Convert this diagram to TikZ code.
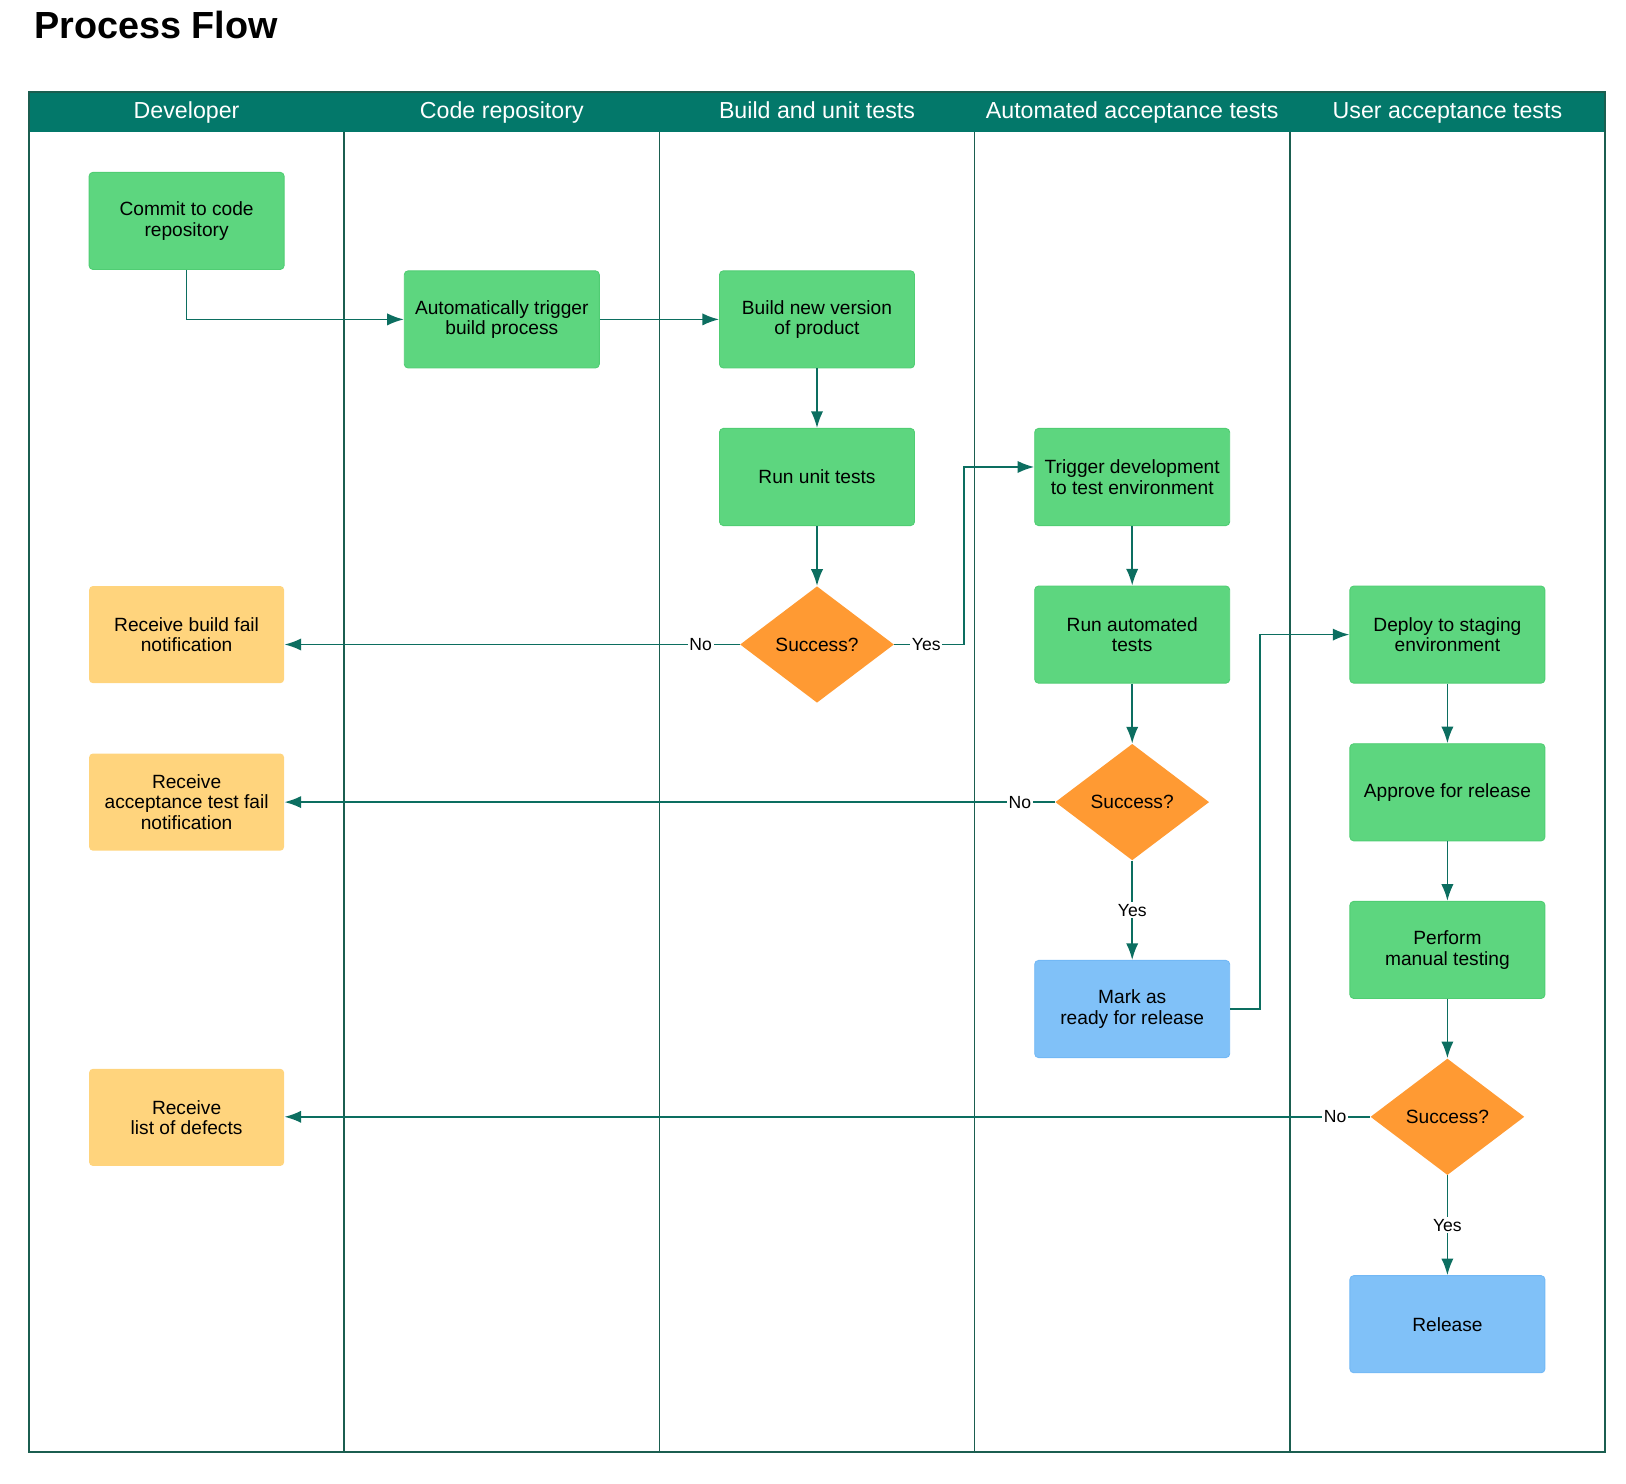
\documentclass[tikz,border=0pt]{standalone}
\usepackage{fontspec}
\setmainfont{Liberation Sans}
\usepackage{tikz}
\usetikzlibrary{arrows.meta,shapes.geometric,calc}
\definecolor{head}{HTML}{03786A}
\definecolor{lane}{HTML}{1B5E50}
\definecolor{flow}{HTML}{0C6E60}
\definecolor{task}{HTML}{5DD67F}
\definecolor{taskedge}{HTML}{50CD73}
\definecolor{note}{HTML}{FFD47D}
\definecolor{done}{HTML}{80C1F8}
\definecolor{doneedge}{HTML}{72B8F5}
\definecolor{decide}{HTML}{FF9A33}
\tikzset{
  pool/.style={draw=lane, line width=0.85pt},
  box/.style={rectangle, rounded corners=2.2pt, minimum width=111pt, minimum height=55.3pt,
    align=center, inner sep=2pt, font=\fontsize{10.9}{11.6}\selectfont},
  taskbox/.style={box, fill=task, draw=taskedge, line width=0.5pt},
  notebox/.style={box, fill=note},
  donebox/.style={box, fill=done, draw=doneedge, line width=0.5pt},
  ask/.style={diamond, fill=decide, minimum width=87.6pt, minimum height=66.3pt,
    inner sep=0pt, font=\fontsize{10.9}{11.6}\selectfont},
  flowline/.style={draw=flow, line width=1pt, -{Latex[length=9.5pt,width=7pt]}},
  lbl/.style={fill=white, inner sep=1pt, font=\fontsize{10}{12}\selectfont},
  lanehead/.style={anchor=base, text=white, font=\fontsize{13.2}{15}\selectfont},
}

\begin{document}
\begin{tikzpicture}[x=0.02cm, y=-0.02cm]
  \useasboundingbox (0,0) rectangle (1626,1484);
  \node[anchor=base west, inner sep=0pt, font=\bfseries\fontsize{21.5}{24}\selectfont] (title) at (34,38.4) {Process Flow};
  % swimlanes
  \fill[head] (29,92) rectangle (1605,132);
  \draw[pool] (29,92) rectangle (1605,1452);
  \foreach \i in {1,...,4}
    \draw[pool] ({29+315.2*\i},132) -- ({29+315.2*\i},1452);
  \foreach \i/\name in {0/Developer,1/Code repository,2/Build and unit tests,3/Automated acceptance tests,4/User acceptance tests}
    \node[lanehead] (head\i) at ({186.6+315.2*\i},118) {\name};

  \node[taskbox] (commit) at (186.6,220.9) {Commit to code\\repository};
  \node[taskbox] (autotrig) at (501.8,319.4) {Automatically trigger\\build process};
  \node[taskbox] (buildnew) at (817.0,319.4) {Build new version\\of product};
  \node[taskbox] (unittest) at (817.0,477.0) {Run unit tests};
  \node[ask] (ok1) at (817.0,644.5) {Success?};
  \node[notebox] (buildfail) at (186.6,634.6) {Receive build fail\\notification};
  \node[taskbox] (trigdev) at (1132.2,477.0) {Trigger development\\to test environment};
  \node[taskbox] (runauto) at (1132.2,634.6) {Run automated\\tests};
  \node[ask] (ok2) at (1132.2,802.1) {Success?};
  \node[notebox] (accfail) at (186.6,802.1) {Receive\\acceptance test fail\\notification};
  \node[donebox] (markrel) at (1132.2,1009.0) {Mark as\\ready for release};
  \node[taskbox] (deploy) at (1447.4,634.6) {Deploy to staging\\environment};
  \node[taskbox] (approve) at (1447.4,792.3) {Approve for release};
  \node[taskbox] (manual) at (1447.4,949.9) {Perform\\manual testing};
  \node[ask] (ok3) at (1447.4,1116.8) {Success?};
  \node[notebox] (defects) at (186.6,1117.4) {Receive\\list of defects};
  \node[donebox] (release) at (1447.4,1324.2) {Release};

  \draw[flowline] (commit.south) |- (autotrig.west);
  \draw[flowline] (autotrig) -- (buildnew);
  \draw[flowline] (buildnew) -- (unittest);
  \draw[flowline] (unittest) -- (ok1);
  \draw[flowline] (ok1.west) -- ++(-39,0) node[lbl] {No} -- (buildfail.east |- ok1.west);
  \draw[flowline] (ok1.east) -- ++(32,0) node[lbl] {Yes} -- ++(38,0) |- ([yshift=5.7pt]trigdev.west);
  \draw[flowline] (trigdev) -- (runauto);
  \draw[flowline] (runauto) -- (ok2);
  \draw[flowline] (ok2.west) -- ++(-35,0) node[lbl] {No} -- (accfail.east |- ok2.west);
  \draw[flowline] (ok2) -- node[lbl] {Yes} (markrel);
  \draw[flowline] (markrel.east) -- ++(30,0) |- (deploy.west);
  \draw[flowline] (deploy) -- (approve);
  \draw[flowline] (approve) -- (manual);
  \draw[flowline] (manual) -- (ok3);
  \draw[flowline] (ok3.west) -- ++(-35,0) node[lbl] {No} -- (defects.east |- ok3.west);
  \draw[flowline] (ok3) -- node[lbl] {Yes} (release);
\end{tikzpicture}
\end{document}
